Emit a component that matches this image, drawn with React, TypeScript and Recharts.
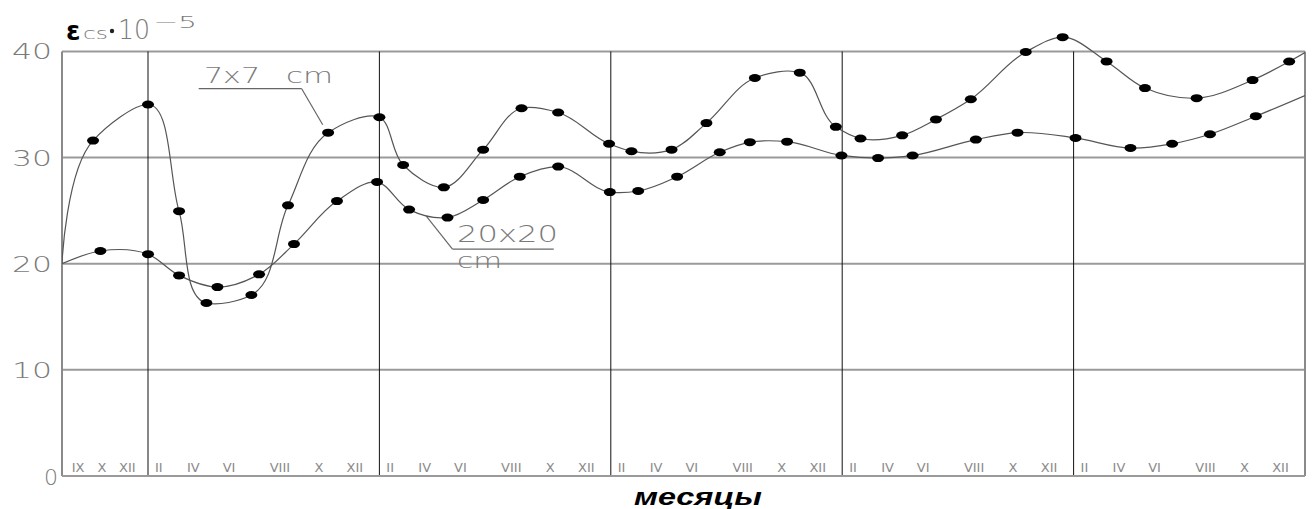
import React from "react";
import { LineChart, Line, XAxis, YAxis, ReferenceLine } from "recharts";

// x = months counted from the first January (year boundaries at 0, 12, 24, ...)
const sample7X = [-4.46, -2.85, 0, 1.61, 3.03, 5.36, 7.26, 9.34, 12, 13.23, 15.34, 17.38, 19.37, 21.27, 23.91, 25.07, 27.15, 28.96, 31.47, 33.8, 35.67, 36.95, 39.11, 40.86, 42.67, 45.52, 47.43, 49.71, 51.7, 54.38, 57.28, 59.18, 60];
const sample7Y = [20, 31.6, 35.0, 24.95, 16.3, 17.05, 25.5, 32.35, 33.8, 29.3, 27.2, 30.75, 34.65, 34.25, 31.3, 30.6, 30.75, 33.25, 37.5, 38.0, 32.9, 31.8, 32.1, 33.6, 35.5, 39.95, 41.35, 39.06, 36.55, 35.6, 37.3, 39.05, 39.9];

const sample20X = [-4.46, -2.47, 0, 1.61, 3.6, 5.76, 7.57, 9.8, 11.88, 13.54, 15.53, 17.38, 19.28, 21.27, 23.95, 25.42, 27.44, 29.65, 31.21, 33.14, 35.96, 37.86, 39.65, 42.93, 45.09, 48.1, 50.95, 53.11, 55.07, 57.45, 60];
const sample20Y = [20, 21.2, 20.9, 18.9, 17.8, 19.0, 21.85, 25.9, 27.7, 25.1, 24.35, 26.0, 28.2, 29.15, 26.75, 26.85, 28.2, 30.5, 31.45, 31.5, 30.2, 29.95, 30.2, 31.7, 32.35, 31.85, 30.9, 31.3, 32.2, 33.9, 35.85];

const monthTickPos = [
  -3.63, -2.39, -1.07,
  0.56, 2.35, 4.2, 6.84, 8.86, 10.73,
  12.56, 14.35, 16.2, 18.84, 20.86, 22.73,
  24.56, 26.35, 28.2, 30.84, 32.86, 34.73,
  36.56, 38.35, 40.2, 42.84, 44.86, 46.73,
  48.56, 50.35, 52.2, 54.84, 56.86, 58.73,
];
const monthTickLabels = [
  "IX", "X", "XII",
  "II", "IV", "VI", "VIII", "X", "XII",
  "II", "IV", "VI", "VIII", "X", "XII",
  "II", "IV", "VI", "VIII", "X", "XII",
  "II", "IV", "VI", "VIII", "X", "XII",
  "II", "IV", "VI", "VIII", "X", "XII",
];

const yearLines = [0, 12, 24, 36, 48];
const yTicks = [0, 10, 20, 30, 40];
const gridValues = [10, 20, 30, 40];
const xStart = -4.46;
const xEnd = 60;

const series7 = sample7X.map((x, i) => ({ x, y: sample7Y[i] }));
const series20 = sample20X.map((x, i) => ({ x, y: sample20Y[i] }));

const gray = "#7a7a7a";
const font = "'DejaVu Sans', sans-serif";

// chordal Catmull-Rom in screen space, close to a CAD fit spline
function catmullRom(context: any) {
  let pts: number[][] = [];
  const eps = 1e-9;
  const alpha = 1;
  return {
    areaStart() {},
    areaEnd() {},
    lineStart() {
      pts = [];
    },
    point(x: number, y: number) {
      pts.push([+x, +y]);
    },
    lineEnd() {
      if (!pts.length) return;
      context.moveTo(pts[0][0], pts[0][1]);
      for (let i = 0; i < pts.length - 1; i++) {
        const p0 = pts[i - 1] || pts[i];
        const p1 = pts[i];
        const p2 = pts[i + 1];
        const p3 = pts[i + 2] || p2;
        const l01 = Math.pow(Math.hypot(p1[0] - p0[0], p1[1] - p0[1]), alpha);
        const l12 = Math.pow(Math.hypot(p2[0] - p1[0], p2[1] - p1[1]), alpha);
        const l23 = Math.pow(Math.hypot(p3[0] - p2[0], p3[1] - p2[1]), alpha);
        let c1 = [p1[0], p1[1]];
        let c2 = [p2[0], p2[1]];
        if (l01 > eps) {
          const a = 2 * l01 * l01 + 3 * l01 * l12 + l12 * l12;
          const n = 3 * l01 * (l01 + l12);
          c1 = [0, 1].map((k) => (p1[k] * a - p0[k] * l12 * l12 + p2[k] * l01 * l01) / n);
        }
        if (l23 > eps) {
          const b = 2 * l23 * l23 + 3 * l23 * l12 + l12 * l12;
          const m = 3 * l23 * (l23 + l12);
          c2 = [0, 1].map((k) => (p2[k] * b + p1[k] * l23 * l23 - p3[k] * l12 * l12) / m);
        }
        context.bezierCurveTo(c1[0], c1[1], c2[0], c2[1], p2[0], p2[1]);
      }
    },
  };
}

function makeDot(count: number) {
  return (p: any) => {
    if (p.index === 0 || p.index === count - 1) return <g key={`n-${p.index}`} />;
    return <ellipse key={`d-${p.index}`} cx={p.cx} cy={p.cy} rx={6} ry={4} fill="#000" />;
  };
}

function YTick(p: any) {
  const v = p.payload.value;
  if (v === 0) {
    return (
      <text x={p.x - 1} y={p.y + 9} fill={gray} fontSize={22} fontFamily={font} fontWeight={200} textAnchor="middle">
        0
      </text>
    );
  }
  return (
    <text x={p.x} y={p.y + 8} fill={gray} fontSize={22} fontFamily={font} fontWeight={200} textAnchor="end" textLength={40} lengthAdjust="spacingAndGlyphs">
      {String(v)}
    </text>
  );
}

function XTick(p: any) {
  const idx = monthTickPos.indexOf(p.payload.value);
  return (
    <text x={p.x} y={p.y - 4} fill="#8a8a8a" fontSize={13} fontFamily={font} textAnchor="middle">
      {monthTickLabels[idx]}
    </text>
  );
}

export default function App() {
  return (
    <div style={{ position: "absolute", left: 0, top: 0, width: 1312, height: 509, background: "#fff" }}>
      <LineChart width={1312} height={509} margin={{ top: 9, right: 7, bottom: 2, left: 0 }}>
        <XAxis
          type="number"
          dataKey="x"
          domain={[xStart, xEnd]}
          allowDataOverflow
          ticks={monthTickPos}
          interval={0}
          tick={<XTick />}
          tickLine={false}
          tickSize={0}
          tickMargin={0}
          axisLine={{ stroke: "#9a9a9a", strokeWidth: 2 }}
          height={31}
        />
        <YAxis
          type="number"
          dataKey="y"
          domain={[0, 44]}
          allowDataOverflow
          ticks={yTicks}
          interval={0}
          tick={<YTick />}
          tickLine={false}
          tickSize={0}
          tickMargin={10}
          axisLine={false}
          width={62}
        />
        {gridValues.map((v) => (
          <ReferenceLine key={`g-${v}`} y={v} stroke="#9a9a9a" strokeWidth={2} />
        ))}
        <ReferenceLine segment={[{ x: xStart, y: 0 }, { x: xStart, y: 40 }]} stroke="#8a8a8a" strokeWidth={2} />
        <ReferenceLine segment={[{ x: xEnd, y: 0 }, { x: xEnd, y: 40 }]} stroke="#8a8a8a" strokeWidth={2} />
        {yearLines.map((m) => (
          <ReferenceLine key={m} segment={[{ x: m, y: 0 }, { x: m, y: 40 }]} stroke="#111" strokeWidth={1} />
        ))}
        {/* label leaders */}
        <ReferenceLine segment={[{ x: 2.63, y: 36.49 }, { x: 7.97, y: 36.49 }]} stroke="#666" strokeWidth={1.2} />
        <ReferenceLine segment={[{ x: 7.97, y: 36.49 }, { x: 9.06, y: 33.1 }]} stroke="#666" strokeWidth={1.2} />
        <ReferenceLine segment={[{ x: 15.79, y: 21.38 }, { x: 21.04, y: 21.38 }]} stroke="#666" strokeWidth={1.2} />
        <ReferenceLine segment={[{ x: 15.79, y: 21.38 }, { x: 14.44, y: 24.46 }]} stroke="#666" strokeWidth={1.2} />
        <Line
          data={series7}
          dataKey="y"
          type={catmullRom as any}
          stroke="#555"
          strokeWidth={1.2}
          dot={makeDot(series7.length)}
          activeDot={false}
          isAnimationActive={false}
        />
        <Line
          data={series20}
          dataKey="y"
          type={catmullRom as any}
          stroke="#555"
          strokeWidth={1.2}
          dot={makeDot(series20.length)}
          activeDot={false}
          isAnimationActive={false}
        />
      </LineChart>
      <svg width={1312} height={509} style={{ position: "absolute", left: 0, top: 0, pointerEvents: "none" }}>
        <text x={66} y={40} fontSize={26} fontWeight="bold" fontFamily="'DejaVu Sans', sans-serif" fill="#000">ε</text>
        <text x={83} y={39} fontSize={15} fontFamily={font} fontWeight={200} fill={gray} textLength={25} lengthAdjust="spacingAndGlyphs">cs</text>
        <circle cx={112} cy={31} r={2.2} fill="#222" />
        <text x={118} y={39} fontSize={27} fontFamily={font} fontWeight={200} fill={gray} textLength={32} lengthAdjust="spacingAndGlyphs">10</text>
        <text x={153} y={28} fontSize={16} fontFamily={font} fontWeight={200} fill={gray} textLength={44} lengthAdjust="spacingAndGlyphs">−5</text>
        <text x={204} y={83} fontSize={21} fontFamily={font} fontWeight={200} fill={gray} textLength={56} lengthAdjust="spacingAndGlyphs">7x7</text>
        <text x={286} y={83} fontSize={21} fontFamily={font} fontWeight={200} fill={gray} textLength={47} lengthAdjust="spacingAndGlyphs">cm</text>
        <text x={457} y={242} fontSize={23} fontFamily={font} fontWeight={200} fill={gray} textLength={101} lengthAdjust="spacingAndGlyphs">20x20</text>
        <text x={457} y={268} fontSize={21} fontFamily={font} fontWeight={200} fill={gray} textLength={45} lengthAdjust="spacingAndGlyphs">cm</text>
        <text x={634} y={505} fontSize={23} fontWeight="bold" fontStyle="italic" fontFamily="'Liberation Sans', sans-serif" fill="#000" textLength={128} lengthAdjust="spacingAndGlyphs">месяцы</text>
      </svg>
    </div>
  );
}
